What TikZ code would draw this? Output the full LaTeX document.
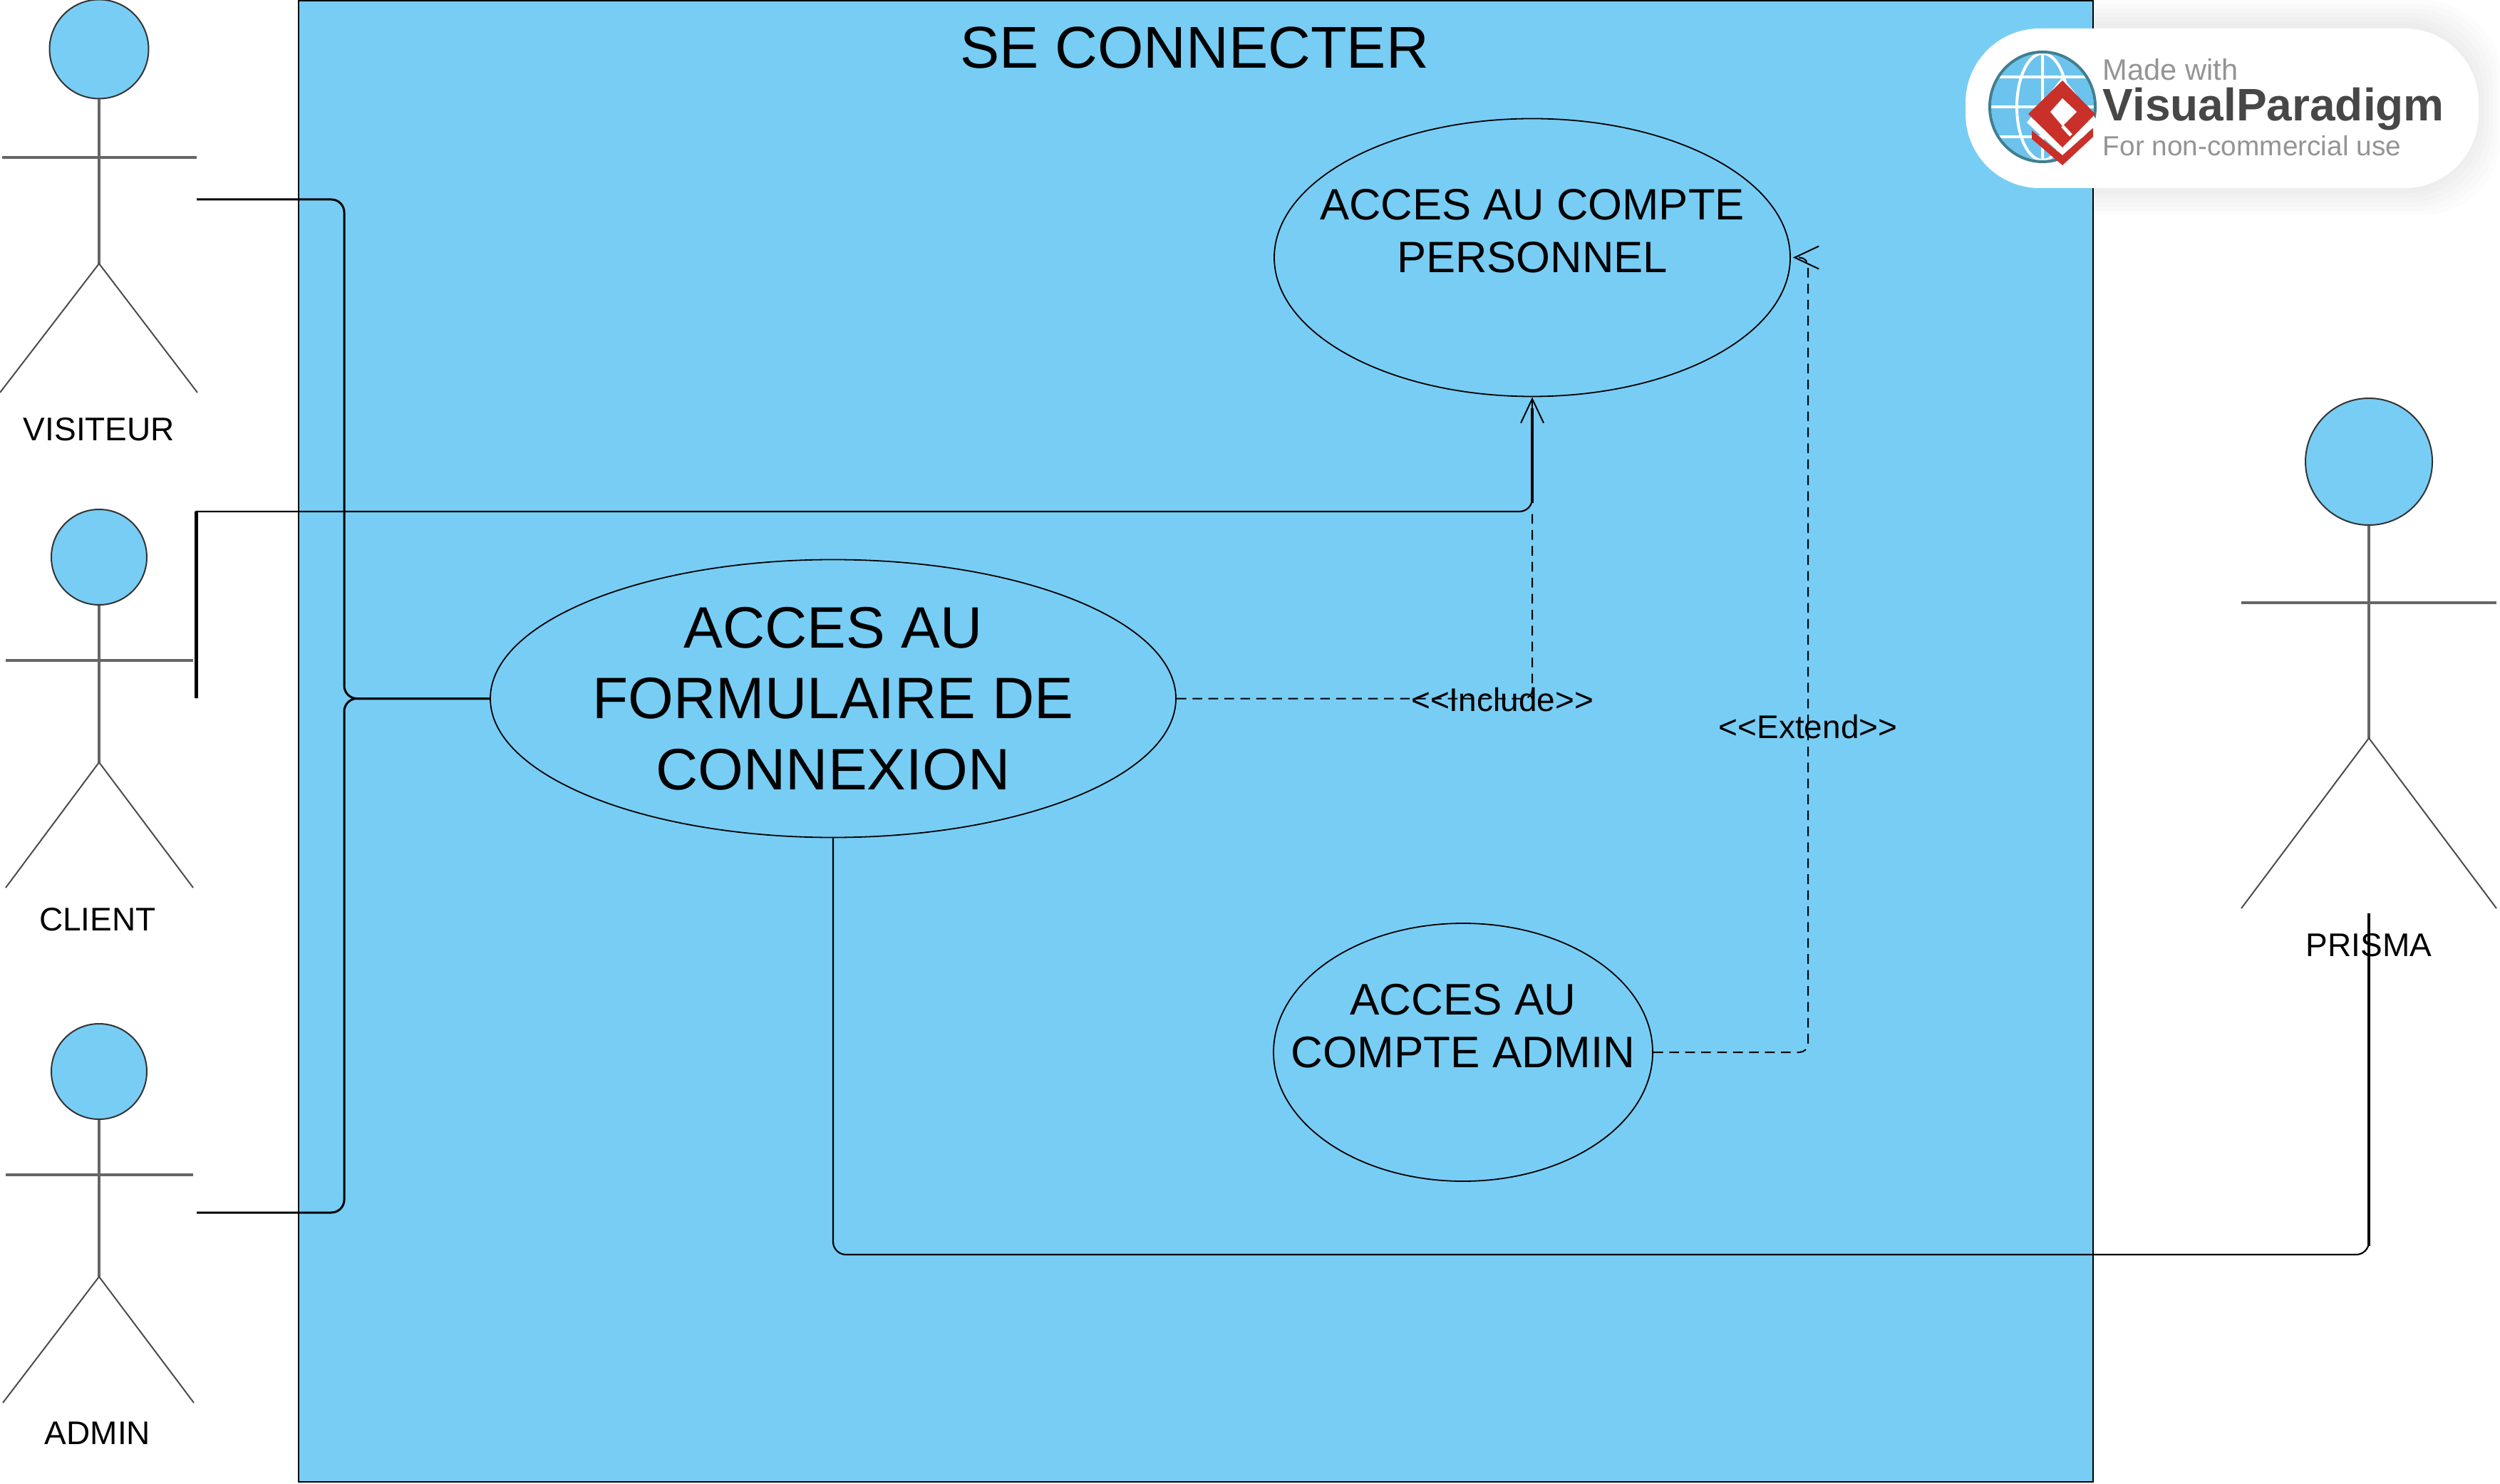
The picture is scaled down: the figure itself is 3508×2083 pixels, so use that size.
\documentclass[tikz,border=0pt]{standalone}
\usepackage{fontspec}
\setmainfont{Liberation Sans}
\usetikzlibrary{shapes.geometric,arrows.meta}
\definecolor{boxblue}{HTML}{78CDF4}
\definecolor{logored}{HTML}{C9302A}
\definecolor{logoteal}{HTML}{3F7F90}
\definecolor{logoblue}{HTML}{6CC3EE}
\newcommand{\fpx}[2]{\fontsize{#1}{#2}\selectfont}
\tikzset{
  x=0.25pt,y=-0.25pt,
  uc/.style={ellipse,draw=black,fill=boxblue,line width=0.45pt,inner sep=0pt},
  uctext/.style={align=center,inner sep=0pt,text=black},
  headshape/.style={circle,draw=black!80,fill=boxblue,line width=0.5pt,inner sep=0pt},
  limb/.style={draw=black!60,line width=0.8pt},
  leg/.style={draw=black!70,line width=0.5pt},
  actorname/.style={font=\fpx{11.5pt}{14pt},inner sep=0pt,text=black},
  assoc/.style={draw=black,line width=0.75pt,rounded corners=4.5pt},
  assocthin/.style={draw=black,line width=0.55pt,rounded corners=4.5pt},
  dep/.style={draw=black,line width=0.5pt,dash pattern=on 3.4pt off 2.2pt,rounded corners=3pt},
  openhead/.style={-{Straight Barb[length=8.5pt,width=8pt,line width=0.5pt]}},
  deplabel/.style={font=\fpx{11.5pt}{14pt},inner sep=0pt,text=black},
  logotext/.style={anchor=west,inner sep=0pt},
}
\begin{document}
\begin{tikzpicture}
\useasboundingbox (0,0) rectangle (3508,2083);
\fill[white] (0,0) rectangle (3508,2083);
% logo shadow (only seen on white)
\foreach \g in {0,6,...,30}{
  \fill[black,opacity=0.012,rounded corners=28pt] (2748-\g,30-\g) rectangle (3480+\g,272+\g);
}
% system box
\node[draw=black,fill=boxblue,line width=0.5pt,minimum width=629.5pt,minimum height=519.75pt,inner sep=0pt,anchor=north west] (sys) at (418,0) {};
\node[font=\fpx{20.7pt}{25pt},inner sep=0pt] (title) at (1676,67) {SE CONNECTER};
% logo
\node[fill=white,rounded corners=26pt,minimum width=180pt,minimum height=56pt,inner sep=0pt] (pill) at (3118,152) {};
\begin{scope}
  \clip (2866,150) ellipse [x radius=72,y radius=75];
  \fill[logoblue] (2780,60) rectangle (2950,240);
  \draw[white,line width=1pt] (2780,108) -- (2950,108) (2780,150) -- (2950,150) (2780,192) -- (2950,192);
  \draw[white,line width=1pt] (2866,150) ellipse [x radius=36,y radius=75] (2866,70) -- (2866,230);
\end{scope}
\draw[logoteal,line width=1pt] (2866,150) ellipse [x radius=74,y radius=77];
\fill[white] (2894,218) -- (2844,172) -- (2894,108) -- (2945,172) -- cycle;
\fill[logored] (2894,113) -- (2940,160) -- (2894,207) -- (2846,160) -- cycle;
\fill[white] (2894,138) -- (2914,157) -- (2894,177) -- (2877,157) -- cycle;
\draw[white,line width=1.2pt] (2894,177) -- (2906,190);
\fill[logored] (2851,183) -- (2894,218) -- (2937,180) -- (2937,192) -- (2894,232) -- (2851,195) -- cycle;
\node[logotext,font=\fpx{10.4pt}{12pt},text=black!42] (lg1) at (2950,98) {Made with};
\node[logotext,font=\bfseries\fpx{16pt}{18pt},text=black!72] (lg2) at (2950,153) {VisualParadigm};
\node[logotext,font=\fpx{9.7pt}{12pt},text=black!42] (lg3) at (2950,205) {For non-commercial use};
% use cases
\node[uc,minimum width=240.5pt,minimum height=97.5pt,
  label={[uctext,font=\fpx{20.5pt}{24.9pt}]center:ACCES AU\\FORMULAIRE DE\\CONNEXION}] (main) at (1169,980.5) {};
\node[uc,minimum width=181pt,minimum height=97.5pt,
  label={[uctext,font=\fpx{15.4pt}{18.5pt}]center:ACCES AU COMPTE\\PERSONNEL\\~}] (perso) at (2150,361.5) {};
\node[uc,minimum width=133pt,minimum height=90.5pt,
  label={[uctext,font=\fpx{15.5pt}{18.5pt}]center:ACCES AU\\COMPTE ADMIN\\~}] (adm) at (2053,1477) {};
% actors
\node[headshape,minimum size=34.75pt] (h1) at (139,69) {};
\coordinate (a1l) at (3,221); \coordinate (a1r) at (276,221);
\coordinate (x1) at (139,370); \coordinate (f1l) at (0,551); \coordinate (f1r) at (277,551);
\draw[limb] (h1.south) -- (x1); \draw[limb] (a1l) -- (a1r);
\draw[leg] (f1l) -- (x1) -- (f1r);
\node[actorname] (visiteur) at (139,603) {VISITEUR};

\node[headshape,minimum size=33.5pt] (h2) at (139,782) {};
\coordinate (a2l) at (8,927); \coordinate (a2r) at (271,927);
\coordinate (x2) at (139,1070); \coordinate (f2l) at (8,1246); \coordinate (f2r) at (271,1246);
\draw[limb] (h2.south) -- (x2); \draw[limb] (a2l) -- (a2r);
\draw[leg] (f2l) -- (x2) -- (f2r);
\node[actorname] (client) at (137,1291) {CLIENT};

\node[headshape,minimum size=33.5pt] (h3) at (139,1504) {};
\coordinate (a3l) at (8,1649); \coordinate (a3r) at (271,1649);
\coordinate (x3) at (139,1792); \coordinate (f3l) at (4,1969); \coordinate (f3r) at (272,1969);
\draw[limb] (h3.south) -- (x3); \draw[limb] (a3l) -- (a3r);
\draw[leg] (f3l) -- (x3) -- (f3r);
\node[actorname] (admin) at (137,2012) {ADMIN};

\node[headshape,minimum size=44.5pt] (h4) at (3324,648) {};
\coordinate (a4l) at (3145,846); \coordinate (a4r) at (3503,846);
\coordinate (x4) at (3324,1036); \coordinate (f4l) at (3145,1275); \coordinate (f4r) at (3503,1275);
\draw[limb] (h4.south) -- (x4); \draw[limb] (a4l) -- (a4r);
\draw[leg] (f4l) -- (x4) -- (f4r);
\node[actorname] (prisma) at (3324,1327) {PRISMA};
% connectors
\coordinate (visEnd) at (276,280);
\coordinate (admEnd) at (276,1702);
\coordinate (jn) at (483,980.5);
\coordinate (cliEnd) at (275.5,980);
\coordinate (cliTop) at (275.5,718);
\coordinate (perBend) at (perso.south |- cliTop);
\coordinate (priEnd) at (3324,1282);
\coordinate (priLow) at (3324,1761);
\coordinate (incBend) at (perso.south |- main.east);
\coordinate (extX) at (2537,1477);
\coordinate (extTop) at (2537,361.5);
\draw[assoc] (visEnd) -| (jn) -- (main.west);
\draw[assoc] (admEnd) -| (jn) -- (main.west);
\draw[assocthin] (cliEnd) [sharp corners] -- (cliTop) [rounded corners=4.5pt] -- (perBend) -- ([yshift=-8pt]perso.south);
\draw[draw=black,line width=1.1pt] (cliEnd) -- (cliTop);
\draw[draw=black,line width=0.5pt,openhead] ([yshift=6pt]perBend) -- (perso.south);
\draw[draw=black,line width=0.9pt] ([yshift=3pt]perBend) -- ([yshift=-4pt]perso.south);
\draw[assocthin] (main.south) |- (priLow) -- (priEnd);
\draw[draw=black,line width=0.9pt] ([yshift=3pt]priLow) -- (priEnd);
\draw[dep] (main.east) -- (incBend) -- (perBend);
\draw[dep,openhead,shorten >=0.75pt] (adm.east) -- (extX) -- (extTop) -- (perso.east);
\node[deplabel] (inc) at (2108,982) {<{}<Include>{}>};
\node[deplabel] (ext) at (2537,1020) {<{}<Extend>{}>};
\end{tikzpicture}
\end{document}
